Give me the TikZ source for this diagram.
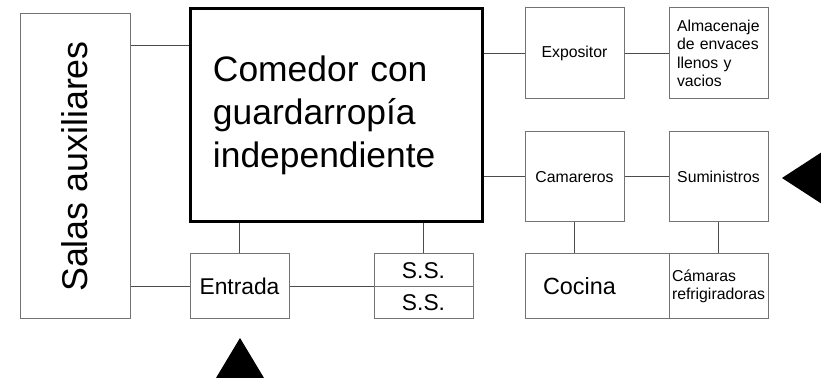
\documentclass[tikz,border=0pt]{standalone}
\usepackage{fontspec}
\setmainfont{Liberation Sans}
\usetikzlibrary{calc}
\tikzset{
  box/.style= {draw=black!55, line width=0.5pt, inner sep=0pt, font=\fontsize{11.4pt}{13pt}\selectfont},
  bigbox/.style= {draw=black, line width=1.5pt, align=left, inner xsep=11.5pt, text width=123pt, minimum height=106.5pt, font=\fontsize{17.7pt}{21.5pt}\selectfont},
  small/.style= {font=\fontsize{7.9pt}{9.2pt}\selectfont},
  link/.style= {draw=black!70, line width=0.5pt},
}

\begin{document}
\begin{tikzpicture}[x=0.5pt, y=-0.5pt]
  \useasboundingbox (0,0) rectangle (821,384);
  \clip (0,0) rectangle (821,384);
  \node [box, rotate=90, minimum width=152.5pt, minimum height=55pt, font=\fontsize{17.9pt}{21pt}\selectfont] (sa) at (75,166.5) {Salas auxiliares} ;
  \node [bigbox] (com) at (336,115.5) {Comedor con\\guardarropía\\independiente} ;
  \node [box, minimum width=49.5pt, minimum height=32.5pt] (ent) at (239.5,286.5) {Entrada} ;
  \node [box, minimum width=49.5pt, minimum height=16.5pt] (ss1) at (423.5,270.5) {S.S.} ;
  \node [box, minimum width=49.5pt, minimum height=16pt] (ss2) at (423.5,303) {S.S.} ;
  \node [box, small, minimum width=49.5pt, minimum height=45.5pt] (exp) at (574.5,53.5) {Expositor} ;
  \node [box, small, align=left, inner xsep=4pt, text width=41.5pt, minimum height=45.5pt] (alm) at (718.5,53.5) {Almacenaje\\de envaces\\llenos y\\vacios} ;
  \node [box, small, minimum width=49.5pt, minimum height=45pt] (cam) at (574.5,177) {Camareros} ;
  \node [box, small, minimum width=49.5pt, minimum height=45pt] (sum) at (718.5,177) {Suministros} ;
  \node [box, align=left, inner xsep=9pt, text width=54pt, minimum height=32.5pt, font=\fontsize{11.7pt}{14pt}\selectfont] (coc) at (597,286.5) {Cocina} ;
  \node [box, small, align=left, inner xsep=1.5pt, text width=46.5pt, minimum height=32.5pt] (cama) at (718.5,286.5) {Cámaras\\refrigiradoras} ;

  \coordinate (c1) at ($(com.north west)+(0,-19pt)$) ;
  \draw [link] (c1) -- (sa.south |- c1) ;
  \draw [link] (sa.south |- ent.west) -- (ent.west) ;
  \draw [link] (ent.north) -- (ent.north |- com.south) ;
  \draw [link] (ss1.north) -- (ss1.north |- com.south) ;
  \draw [link] (ent.east) -- (ent.east -| ss1.west) ;
  \draw [link] (exp.west) -- (exp.west -| com.east) ;
  \draw [link] (cam.west) -- (cam.west -| com.east) ;
  \draw [link] (exp) -- (alm) ;
  \draw [link] (cam) -- (sum) ;
  \draw [link] (cam.south) -- (cam.south |- coc.north) ;
  \draw [link] (sum) -- (cama) ;

  \fill (216,378) -- (264,378) -- (240,338) -- cycle ;
  \fill (782,178) -- (822,152) -- (822,204) -- cycle ;
\end{tikzpicture}
\end{document}
